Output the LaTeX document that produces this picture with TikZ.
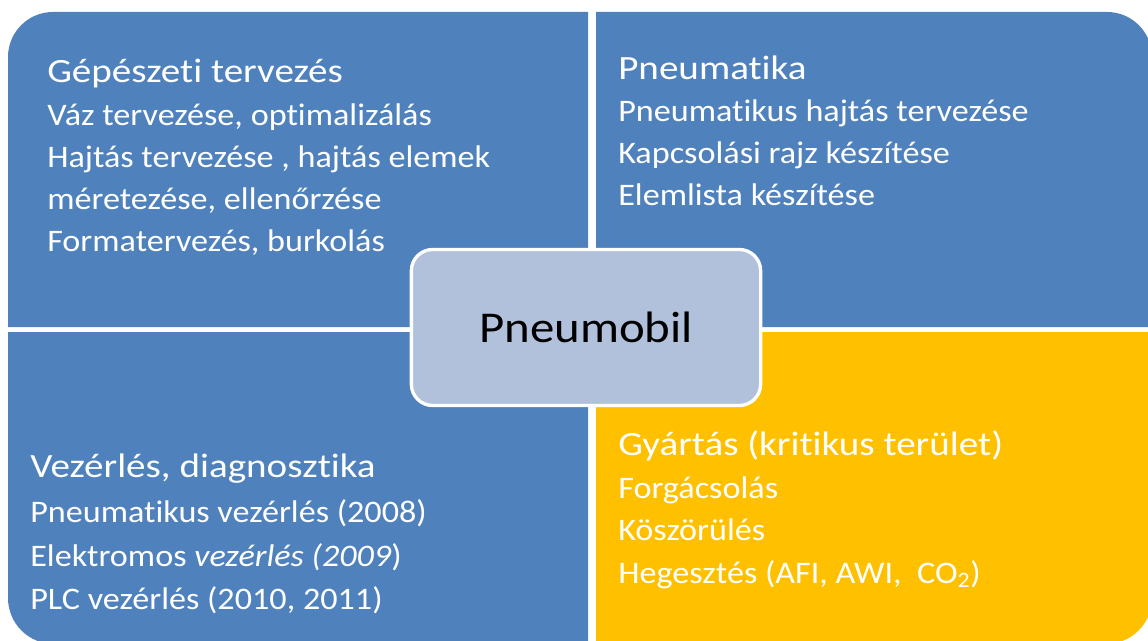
\documentclass[tikz,border=0pt]{standalone}
\usepackage{fontspec}
\setmainfont[Ligatures=NoCommon]{Carlito}
\newfontfamily\titlefont[FakeStretch=1.15,Ligatures=NoCommon]{Carlito}
\newfontfamily\itemfont[FakeStretch=1.09,Ligatures=NoCommon]{Carlito}
\newfontfamily\hubfont[FakeStretch=1.11,Ligatures=NoCommon]{Carlito}
\usepackage{tikz}
\definecolor{quadblue}{RGB}{79,129,189}
\definecolor{quadyellow}{RGB}{255,192,0}
\definecolor{hubfill}{RGB}{177,193,220}
\tikzset{
  titletext/.style={anchor=base west,inner sep=0pt,text=white,font=\titlefont\fontsize{25.5pt}{30pt}\selectfont},
  itemtext/.style={anchor=base west,inner sep=0pt,text=white,font=\itemfont\fontsize{23.5pt}{28pt}\selectfont},
  hubbox/.style={draw=white,line width=2.5pt,fill=hubfill,rounded corners=16pt,
    minimum width=262pt,minimum height=117pt,inner sep=0pt,font=\hubfont\fontsize{33pt}{38pt}\selectfont}
}
\begin{document}
\begin{tikzpicture}[x=0.75pt,y=0.75pt,yscale=-1,xscale=1]
\clip (0,0) rectangle (1148,641);
\fill[white] (0,0) rectangle (1148,641);

%Shape: top left quadrant
\fill[quadblue] (588,327) -- (8,327) -- (8,57) .. controls (8,32.15) and (28.15,12) .. (53,12) -- (588,12) -- cycle;
%Shape: top right quadrant
\fill[quadblue] (596,327) -- (596,12) -- (1107,12) .. controls (1131.85,12) and (1152,32.15) .. (1152,57) -- (1152,327) -- cycle;
%Shape: bottom left quadrant
\fill[quadblue] (588,332) -- (8,332) -- (8,598) .. controls (8,623.4) and (28.6,644) .. (54,644) -- (588,644) -- cycle;
%Shape: bottom right quadrant
\fill[quadyellow] (596,332) -- (1152,332) -- (1152,598) .. controls (1152,623.4) and (1131.4,644) .. (1106,644) -- (596,644) -- cycle;

%Center box
\node[hubbox] (hub) at (586,327.5) {Pneumobil};

% Text Node: top left
\node[titletext] (gep) at (47,83) {Gépészeti tervezés};
\node[itemtext] (gep1) at (47,126) {Váz tervezése, optimalizálás};
\node[itemtext] (gep2) at (47,168) {Hajtás tervezése , hajtás elemek};
\node[itemtext] (gep3) at (47,210) {méretezése, ellenőrzése};
\node[itemtext] (gep4) at (47,252) {Formatervezés, burkolás};
% Text Node: top right
\node[titletext] (pneu) at (618,80) {Pneumatika};
\node[itemtext] (pneu1) at (618,122) {Pneumatikus hajtás tervezése};
\node[itemtext] (pneu2) at (618,164) {Kapcsolási rajz készítése};
\node[itemtext] (pneu3) at (618,206) {Elemlista készítése};
% Text Node: bottom left
\node[titletext] (vez) at (30,477) {Vezérlés, diagnosztika};
\node[itemtext] (vez1) at (30,522) {Pneumatikus vezérlés (2008)};
\node[itemtext] (vez2) at (30,566) {Elektromos \textit{vezérlés (2009})};
\node[itemtext] (vez3) at (30,609) {PLC vezérlés (2010, 2011)};
% Text Node: bottom right
\node[titletext] (gyar) at (618,455) {Gyártás (kritikus terület)};
\node[itemtext] (gyar1) at (618,498) {Forgácsolás};
\node[itemtext] (gyar2) at (618,540) {Köszörülés};
\node[itemtext] (gyar3) at (618,583) {Hegesztés (AFI, AWI,\ \ CO\textsubscript{2})};

\end{tikzpicture}
\end{document}
